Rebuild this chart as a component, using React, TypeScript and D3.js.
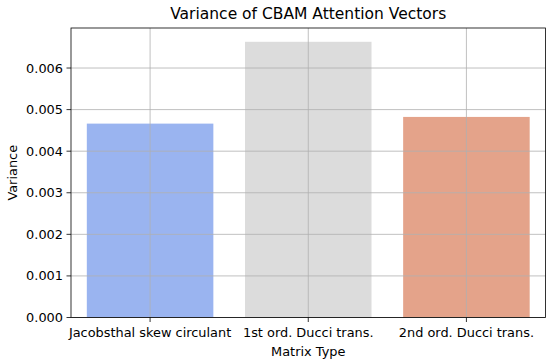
import React from "react";
import * as d3 from "d3";

const categories = ["Jacobsthal skew circulant", "1st ord. Ducci trans.", "2nd ord. Ducci trans."];
const values = [0.004663, 0.006631, 0.004824];
const colors = ["#9ab4f0", "#dcdcdc", "#e4a38a"];
const yTicks = [0, 0.001, 0.002, 0.003, 0.004, 0.005, 0.006];

const W = 550, H = 362;
const M = { left: 71, right: 545.5, top: 28, bottom: 317.5 };

export default function App() {
  const x = d3.scaleBand<string>().domain(categories).range([M.left, M.right]).paddingInner(0.2).paddingOuter(0.1);
  const xc = d3.scalePoint<string>().domain(categories).range([M.left, M.right]).padding(0.5);
  const yMax = d3.max(values)! * 1.05;
  const y = d3.scaleLinear().domain([0, yMax]).range([M.bottom, M.top]);
  const font = "DejaVu Sans, sans-serif";
  return (
    <svg width={W} height={H} style={{ position: "absolute", left: 0, top: 0 }} fontFamily={font}>
      <rect width={W} height={H} fill="#fff" />
      {categories.map((c, i) => (
        <rect key={c} x={x(c)} width={x.bandwidth()} y={y(values[i])} height={M.bottom - y(values[i])} fill={colors[i]} />
      ))}
      {yTicks.map((t) => (
        <g key={t}>
          <line x1={M.left} x2={M.right} y1={y(t)} y2={y(t)} stroke="#b0b0b0" strokeWidth={0.8} />
          <line x1={M.left - 4.5} x2={M.left} y1={y(t)} y2={y(t)} stroke="#000" strokeWidth={0.8} />
          <text x={M.left - 8} y={y(t)} dy="0.35em" textAnchor="end" fontSize={12.9} fill="#000">{t.toFixed(3)}</text>
        </g>
      ))}
      {categories.map((c) => (
        <g key={c}>
          <line x1={xc(c)} x2={xc(c)} y1={M.top} y2={M.bottom} stroke="#b0b0b0" strokeWidth={0.8} />
          <line x1={xc(c)} x2={xc(c)} y1={M.bottom} y2={M.bottom + 4.5} stroke="#000" strokeWidth={0.8} />
          <text x={xc(c)} y={M.bottom + 19} textAnchor="middle" fontSize={12.9} fill="#000">{c}</text>
        </g>
      ))}
      <rect x={M.left} y={M.top} width={M.right - M.left} height={M.bottom - M.top} fill="none" stroke="#000" strokeWidth={0.8} />
      <text x={(M.left + M.right) / 2} y={19} textAnchor="middle" fontSize={15.5} fill="#000">Variance of CBAM Attention Vectors</text>
      <text x={(M.left + M.right) / 2} y={356} textAnchor="middle" fontSize={12.9} fill="#000">Matrix Type</text>
      <text transform={`translate(17, ${(M.top + M.bottom) / 2}) rotate(-90)`} textAnchor="middle" fontSize={12.9} fill="#000">Variance</text>
    </svg>
  );
}
